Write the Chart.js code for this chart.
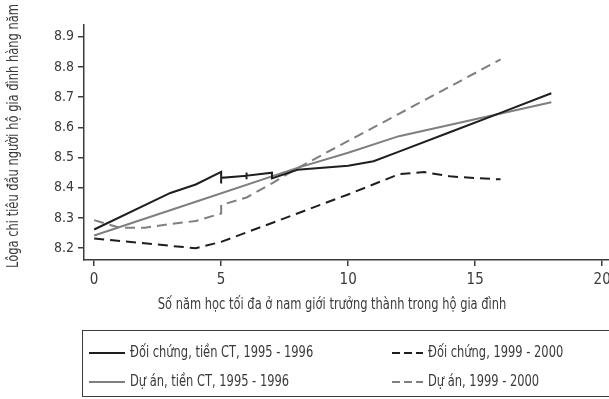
<!DOCTYPE html>
<html>
<head>
<meta charset="utf-8">
<script src="https://cdn.jsdelivr.net/npm/chart.js@4.4.1/dist/chart.umd.min.js"></script>
<style>
    html, body { margin: 0; padding: 0; background: #fff; overflow: hidden; }
    #wrap { position: relative; width: 609px; height: 399px; }
</style>
</head>
<body>
<div id="wrap"><canvas id="chart-lines"></canvas></div>
<script>
// tick labels
const xTicks = [0, 5, 10, 15, 20];
const yTicks = [8.2, 8.3, 8.4, 8.5, 8.6, 8.7, 8.8, 8.9];

// series (lowess curves)
const ctrlPreX = [0, 3, 4, 5, 5, 5, 6, 6, 6, 6, 7, 7, 8, 10, 11, 12, 14, 16, 18];
const ctrlPreY = [8.262, 8.383, 8.411, 8.453, 8.414, 8.433, 8.440, 8.451, 8.428, 8.440, 8.450, 8.431, 8.460, 8.473, 8.488, 8.520, 8.584, 8.648, 8.713];

const ctrlPostX = [0, 4, 5, 8, 10, 12, 13, 14, 15, 16];
const ctrlPostY = [8.232, 8.200, 8.221, 8.315, 8.378, 8.445, 8.452, 8.438, 8.432, 8.428];

const projPreX = [0, 4, 8, 10, 12, 15, 18];
const projPreY = [8.242, 8.354, 8.466, 8.516, 8.571, 8.627, 8.683];

const projPostX = [0, 1, 2, 3, 4, 5, 5, 6, 7, 8, 10, 12, 14, 16];
const projPostY = [8.293, 8.268, 8.268, 8.280, 8.290, 8.315, 8.343, 8.368, 8.415, 8.465, 8.555, 8.645, 8.735, 8.825];

const seriesLabels = [
    'Đối chứng, tiền CT, 1995 - 1996',
    'Đối chứng, 1999 - 2000',
    'Dự án, tiền CT, 1995 - 1996',
    'Dự án, 1999 - 2000'
];

const xTitle = 'Số năm học tối đa ở nam giới trưởng thành trong hộ gia đình';
const yTitle = 'Lôga chi tiêu đầu người hộ gia đình hàng năm';

const FONT = "'Liberation Sans Narrow', 'DejaVu Sans Condensed', 'Roboto Condensed', sans-serif";
const TEXT = '#3a3a3a';
const AXIS = '#3c3c3c';
const DARK = '#1e1e1e';
const GREY = '#7f7f7f';
const SQUEEZE = 0.85; // the source font is more condensed than anything installed

function toPoints(xs, ys) {
    return xs.map((x, i) => ({ x: x, y: ys[i] }));
}

function squeezedText(c, text, x, y, align) {
    c.save();
    c.translate(x, y);
    c.scale(SQUEEZE, 1);
    c.textAlign = align;
    c.fillText(text, 0, 0);
    c.restore();
}

// axis titles and the boxed two-column legend under the plot
const boxLegend = {
    id: 'boxLegend',
    afterDraw(chart) {
        const c = chart.ctx;
        c.save();
        c.fillStyle = TEXT;
        c.font = '15px ' + FONT;
        c.textBaseline = 'middle';
        squeezedText(c, xTitle, 332, 305, 'center');

        c.save();
        c.translate(14, 136);
        c.rotate(-Math.PI / 2);
        squeezedText(c, yTitle, 0, 0, 'center');
        c.restore();

        c.strokeStyle = AXIS;
        c.lineWidth = 1;
        c.strokeRect(82.5, 330.5, 540, 66);

        const cols = [[89, 125, 130], [392, 423, 428]];
        const rows = [353, 382];
        chart.data.datasets.forEach((ds, i) => {
            const col = cols[i % 2];
            const y = rows[Math.floor(i / 2)];
            c.beginPath();
            c.strokeStyle = ds.borderColor;
            c.lineWidth = ds.borderWidth;
            c.setLineDash(ds.borderDash.length ? [8, 4] : []);
            c.moveTo(col[0], y);
            c.lineTo(col[1], y);
            c.stroke();
            c.setLineDash([]);
            c.fillStyle = TEXT;
            squeezedText(c, ds.label, col[2], y, 'left');
        });
        c.restore();
    }
};

document.addEventListener('DOMContentLoaded', function () {
    const ctx = document.getElementById('chart-lines').getContext('2d');

    new Chart(ctx, {
        type: 'line',
        data: {
            datasets: [
                { label: seriesLabels[0], data: toPoints(ctrlPreX, ctrlPreY), borderColor: DARK, borderWidth: 2, borderDash: [] },
                { label: seriesLabels[1], data: toPoints(ctrlPostX, ctrlPostY), borderColor: DARK, borderWidth: 2, borderDash: [10, 6] },
                { label: seriesLabels[2], data: toPoints(projPreX, projPreY), borderColor: GREY, borderWidth: 2, borderDash: [] },
                { label: seriesLabels[3], data: toPoints(projPostX, projPostY), borderColor: GREY, borderWidth: 2, borderDash: [10, 6] }
            ]
        },
        options: {
            responsive: true,
            maintainAspectRatio: false,
            animation: false,
            layout: { padding: { top: 25, right: 0, bottom: 0, left: 0 } },
            elements: {
                point: { radius: 0 },
                line: { tension: 0, fill: false, borderCapStyle: 'butt' }
            },
            plugins: {
                legend: { display: false },
                tooltip: { enabled: false }
            },
            scales: {
                x: {
                    type: 'linear',
                    min: -0.4,
                    max: 20.27,
                    afterBuildTicks: scale => { scale.ticks = xTicks.map(v => ({ value: v })); },
                    afterFit: scale => { scale.height = 139; scale.paddingLeft = 0; scale.paddingRight = 0; },
                    border: { display: true, color: AXIS, width: 1.5 },
                    grid: { display: true, drawOnChartArea: false, drawTicks: true, tickLength: 6, color: AXIS, lineWidth: 1.5 },
                    ticks: { color: TEXT, font: { family: FONT, size: 15 }, padding: 5, maxRotation: 0 }
                },
                y: {
                    min: 8.161,
                    max: 8.939,
                    afterBuildTicks: scale => { scale.ticks = yTicks.map(v => ({ value: v })); },
                    afterFit: scale => { scale.width = 84; },
                    border: { display: true, color: AXIS, width: 1.5 },
                    grid: { display: true, drawOnChartArea: false, drawTicks: true, tickLength: 6, color: AXIS, lineWidth: 1.5 },
                    ticks: { color: TEXT, font: { family: FONT, size: 14 }, padding: 4, callback: v => v.toFixed(1) }
                }
            }
        },
        plugins: [boxLegend]
    });
});
</script>
</body>
</html>
